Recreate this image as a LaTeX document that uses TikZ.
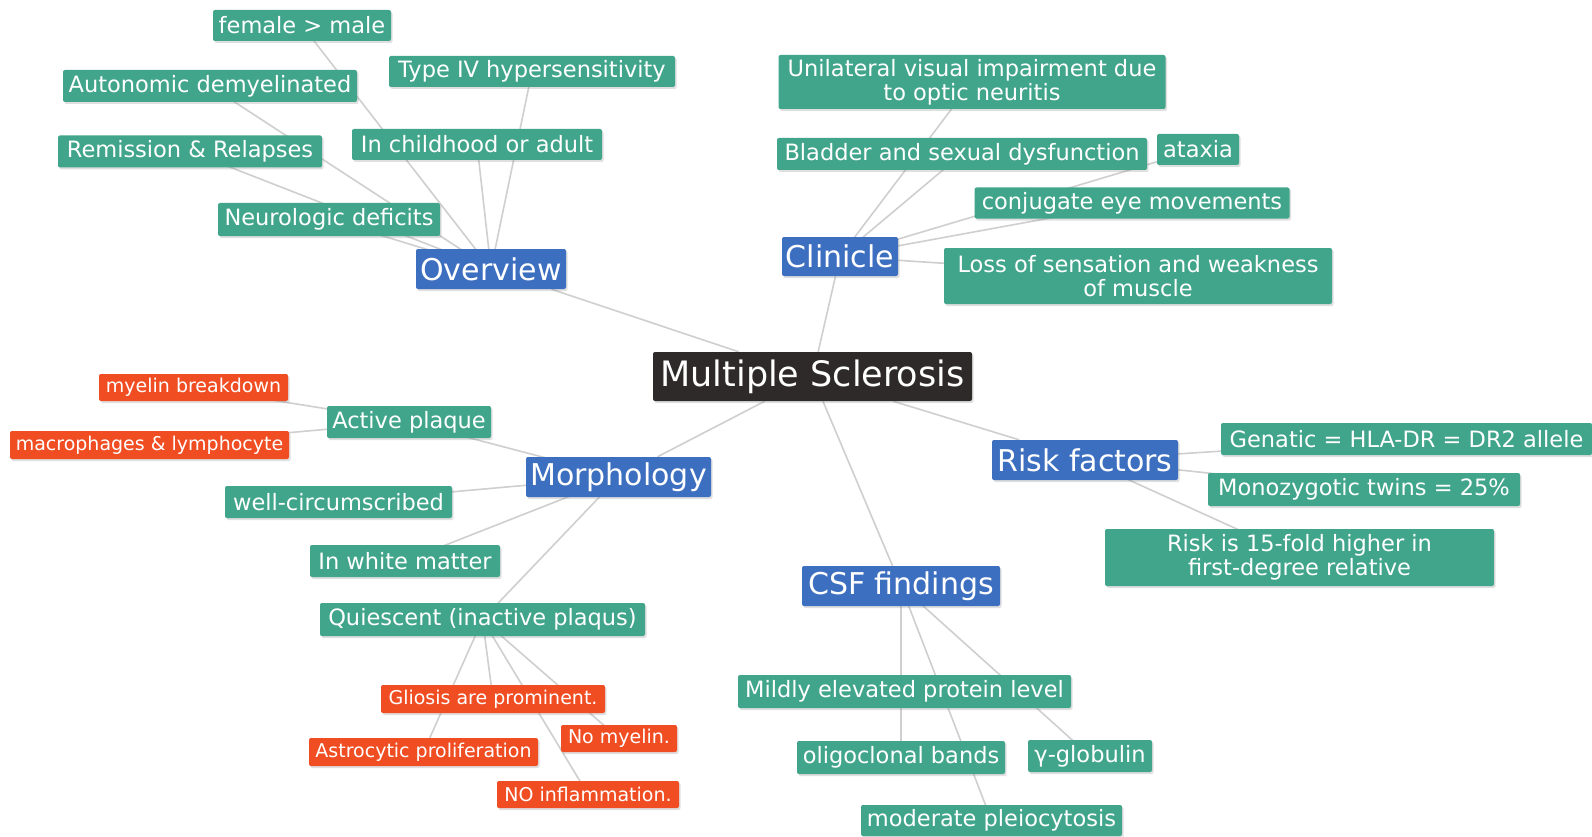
\documentclass[tikz,border=0pt]{standalone}
\usepackage{fontspec}
\setmainfont{DejaVu Sans}
\usetikzlibrary{backgrounds,shadows}
\definecolor{gr}{HTML}{41A58B}
\definecolor{bl}{HTML}{3D6FC0}
\definecolor{rd}{HTML}{F04D22}
\definecolor{dk}{HTML}{2E2A2A}
\definecolor{ln}{HTML}{CFCFCF}
\tikzset{
  base/.style={rectangle, rounded corners=2pt, inner sep=0pt, text=white, align=center,
    drop shadow={shadow xshift=1.5pt, shadow yshift=-2pt, opacity=0.25}},
  gbox/.style={base, fill=gr, font=\fontsize{22.5}{24}\selectfont},
  bbox/.style={base, fill=bl, font=\fontsize{30}{32}\selectfont},
  rbox/.style={base, fill=rd, font=\fontsize{19}{21}\selectfont},
  mbox/.style={base, fill=dk, font=\fontsize{35}{37}\selectfont},
  link/.style={draw=ln, line width=1.6pt},
  sz/.style 2 args={minimum width=#1pt, minimum height=#2pt}
}
\begin{document}
\begin{tikzpicture}[x=1pt,y=-1pt]
\useasboundingbox (0,0) rectangle (1592,837);
% central
\node[mbox, sz={319}{49}] (ms) at (812.5,376.5) {Multiple Sclerosis};
% main branches
\node[bbox, sz={150}{40}] (ov) at (491,269) {Overview};
\node[bbox, sz={116}{39}] (cl) at (840,256.5) {Clinicle};
\node[bbox, sz={185}{40}] (mo) at (618.5,477) {Morphology};
\node[bbox, sz={186}{40}] (rf) at (1085,460) {Risk factors};
\node[bbox, sz={198}{40}] (csf) at (901,586) {CSF findings};
% overview
\node[gbox, sz={178}{31}] (fem) at (302,25.5) {female > male};
\node[gbox, sz={294}{32}] (aut) at (210,86) {Autonomic demyelinated};
\node[gbox, sz={286}{31}] (typ) at (532,71.5) {Type IV hypersensitivity};
\node[gbox, sz={250}{31}] (chi) at (477,144.5) {In childhood or adult};
\node[gbox, sz={264}{32}] (rem) at (190,151.5) {Remission \& Relapses};
\node[gbox, sz={222}{33}] (neu) at (329,219.5) {Neurologic deficits};
% clinicle
\node[gbox, sz={387}{54}] (uni) at (972,82) {Unilateral visual impairment due\\to optic neuritis};
\node[gbox, sz={370}{32}] (bla) at (962,154) {Bladder and sexual dysfunction};
\node[gbox, sz={82}{31}] (ata) at (1198,149.5) {ataxia};
\node[gbox, sz={315}{31}] (con) at (1132,203) {conjugate eye movements};
\node[gbox, sz={388}{56}] (los) at (1138,276) {Loss of sensation and weakness\\of muscle};
% morphology
\node[gbox, sz={164}{32}] (act) at (409,422) {Active plaque};
\node[rbox, sz={189}{27}] (mye) at (193.5,387.5) {myelin breakdown};
\node[rbox, sz={279}{28}] (mac) at (149.5,445) {macrophages \& lymphocyte};
\node[gbox, sz={227}{32}] (wel) at (338.5,502) {well-circumscribed};
\node[gbox, sz={190}{32}] (whi) at (405,561) {In white matter};
\node[gbox, sz={325}{33}] (qui) at (482.5,619.5) {Quiescent (inactive plaqus)};
\node[rbox, sz={224}{28}] (gli) at (493,699) {Gliosis are prominent.};
\node[rbox, sz={229}{28}] (ast) at (423.5,752) {Astrocytic proliferation};
\node[rbox, sz={116}{27}] (nom) at (619,738.5) {No myelin.};
\node[rbox, sz={182}{27}] (noi) at (588,794.5) {NO inflammation.};
% risk factors
\node[gbox, sz={371}{32}] (gen) at (1406.5,439) {Genatic = HLA-DR = DR2 allele};
\node[gbox, sz={312}{33}] (mon) at (1364,489.5) {Monozygotic twins = 25\%};
\node[gbox, sz={389}{57}] (ris) at (1299.5,557.5) {Risk is 15-fold higher in\\first-degree relative};
% csf
\node[gbox, sz={333}{33}] (mil) at (904.5,691.5) {Mildly elevated protein level};
\node[gbox, sz={208}{33}] (oli) at (901,757.5) {oligoclonal bands};
\node[gbox, sz={124}{32}] (gam) at (1090,756) {γ-globulin};
\node[gbox, sz={261}{31}] (mod) at (991.5,820.5) {moderate pleiocytosis};
% connectors
\begin{scope}[on background layer]
\fill[white] (0,0) rectangle (1592,837);
\draw[link] (ms) -- (ov);
\draw[link] (ms) -- (cl);
\draw[link] (ms) -- (mo);
\draw[link] (ms) -- (rf);
\draw[link] (ms) -- (csf);
\foreach \c in {fem,aut,typ,chi,rem,neu} \draw[link] (ov.center) -- (\c.center);
\foreach \c in {uni,bla,ata,con,los} \draw[link] (cl.center) -- (\c.center);
\foreach \c in {act,wel,whi,qui} \draw[link] (mo.center) -- (\c.center);
\foreach \c in {mye,mac} \draw[link] (act.center) -- (\c.center);
\foreach \c in {gli,ast,nom,noi} \draw[link] (qui.center) -- (\c.center);
\foreach \c in {gen,mon,ris} \draw[link] (rf.center) -- (\c.center);
\draw[link] (csf.center) -- (mil.center -| csf.center);
\foreach \c in {oli,gam,mod} \draw[link] (csf.center) -- (\c.center);
\end{scope}
\end{tikzpicture}
\end{document}
